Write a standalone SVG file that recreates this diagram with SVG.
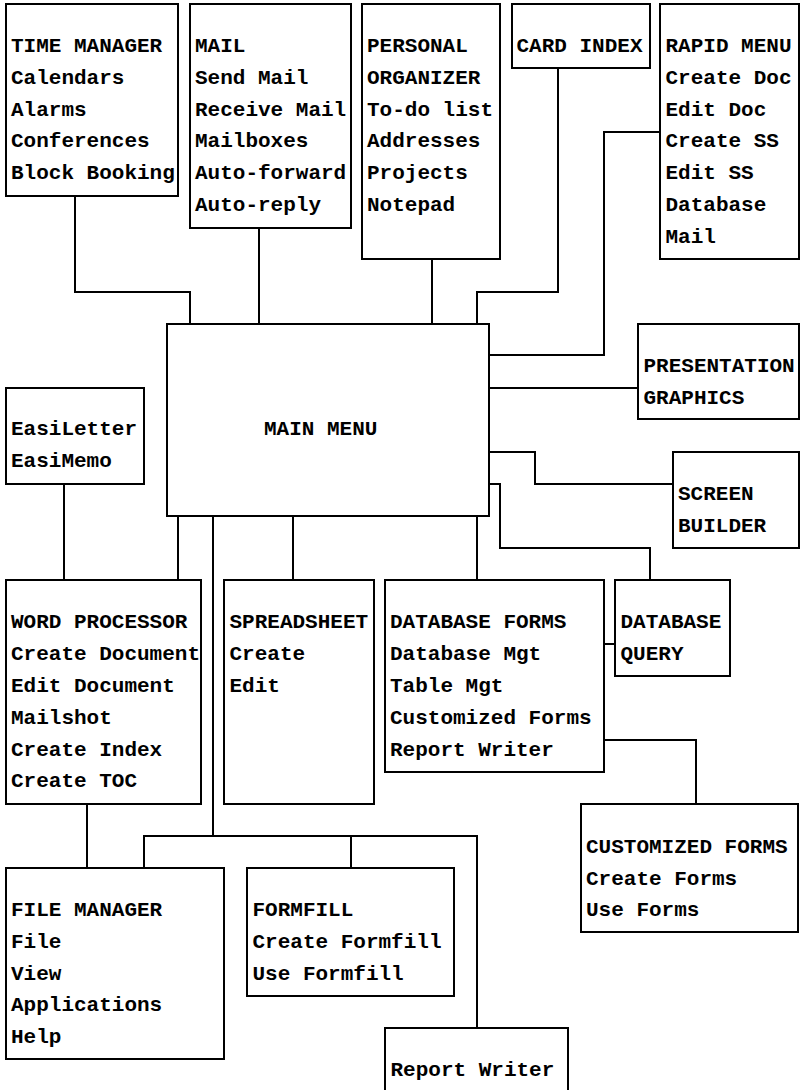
<svg xmlns="http://www.w3.org/2000/svg" width="800" height="1090" viewBox="0 0 800 1090">
  <style>
    .box { fill: #ffffff; stroke: #000000; stroke-width: 2; }
    .wire { fill: none; stroke: #000000; stroke-width: 2; }
    text { font-family: "Liberation Mono", "Courier New", monospace; font-weight: bold; font-size: 21px; fill: #000000; }
  </style>
  <rect x="0" y="0" width="800" height="1090" fill="#ffffff"/>

  <!-- connectors -->
  <g id="connectors">
    <path class="wire" d="M75,196 V292 H190 V324"/>
    <path class="wire" d="M259,228 V324"/>
    <path class="wire" d="M432,259 V324"/>
    <path class="wire" d="M558,68 V292 H477 V324"/>
    <path class="wire" d="M660,132 H604 V355 H489"/>
    <path class="wire" d="M489,388 H638"/>
    <path class="wire" d="M489,452 H535 V484 H673"/>
    <path class="wire" d="M489,484 H500 V548 H650 V580"/>
    <path class="wire" d="M64,484 V580"/>
    <path class="wire" d="M178,516 V580"/>
    <path class="wire" d="M293,516 V580"/>
    <path class="wire" d="M477,516 V580"/>
    <path class="wire" d="M604,644 H615"/>
    <path class="wire" d="M604,740 H696 V804"/>
    <path class="wire" d="M87,804 V868"/>
    <path class="wire" d="M213,516 V836"/>
    <path class="wire" d="M144,868 V836 H477 V1028"/>
    <path class="wire" d="M351,836 V868"/>
  </g>

  <g id="time-manager">
    <rect class="box" x="6" y="4" width="172" height="192"/>
    <text x="11" y="52">TIME MANAGER</text>
    <text x="11" y="83.8">Calendars</text>
    <text x="11" y="115.6">Alarms</text>
    <text x="11" y="147.4">Conferences</text>
    <text x="11" y="179.2">Block Booking</text>
  </g>

  <g id="mail">
    <rect class="box" x="190" y="4" width="161" height="224"/>
    <text x="195" y="52">MAIL</text>
    <text x="195" y="83.8">Send Mail</text>
    <text x="195" y="115.6">Receive Mail</text>
    <text x="195" y="147.4">Mailboxes</text>
    <text x="195" y="179.2">Auto-forward</text>
    <text x="195" y="211">Auto-reply</text>
  </g>

  <g id="personal-organizer">
    <rect class="box" x="362" y="4" width="138" height="255"/>
    <text x="367" y="52">PERSONAL</text>
    <text x="367" y="83.8">ORGANIZER</text>
    <text x="367" y="115.6">To-do list</text>
    <text x="367" y="147.4">Addresses</text>
    <text x="367" y="179.2">Projects</text>
    <text x="367" y="211">Notepad</text>
  </g>

  <g id="card-index">
    <rect class="box" x="512" y="4" width="138" height="64"/>
    <text x="516.5" y="52">CARD INDEX</text>
  </g>

  <g id="rapid-menu">
    <rect class="box" x="660" y="4" width="139" height="255"/>
    <text x="665.5" y="52">RAPID MENU</text>
    <text x="665.5" y="83.8">Create Doc</text>
    <text x="665.5" y="115.6">Edit Doc</text>
    <text x="665.5" y="147.4">Create SS</text>
    <text x="665.5" y="179.2">Edit SS</text>
    <text x="665.5" y="211">Database</text>
    <text x="665.5" y="242.8">Mail</text>
  </g>

  <g id="main-menu">
    <rect class="box" x="167" y="324" width="322" height="192"/>
    <text x="264" y="435">MAIN MENU</text>
  </g>

  <g id="presentation-graphics">
    <rect class="box" x="638" y="324" width="161" height="95"/>
    <text x="643.5" y="372">PRESENTATION</text>
    <text x="643.5" y="403.5">GRAPHICS</text>
  </g>

  <g id="screen-builder">
    <rect class="box" x="673" y="452" width="126" height="96"/>
    <text x="678" y="500">SCREEN</text>
    <text x="678" y="531.8">BUILDER</text>
  </g>

  <g id="easi">
    <rect class="box" x="6" y="388" width="138" height="96"/>
    <text x="11" y="435">EasiLetter</text>
    <text x="11" y="466.8">EasiMemo</text>
  </g>

  <g id="word-processor">
    <rect class="box" x="6" y="580" width="195" height="224"/>
    <text x="11" y="628.3">WORD PROCESSOR</text>
    <text x="11" y="660.1">Create Document</text>
    <text x="11" y="691.9">Edit Document</text>
    <text x="11" y="723.7">Mailshot</text>
    <text x="11" y="755.5">Create Index</text>
    <text x="11" y="787.3">Create TOC</text>
  </g>

  <g id="spreadsheet">
    <rect class="box" x="224" y="580" width="150" height="224"/>
    <text x="229.5" y="628.3">SPREADSHEET</text>
    <text x="229.5" y="660.1">Create</text>
    <text x="229.5" y="691.9">Edit</text>
  </g>

  <g id="database-forms">
    <rect class="box" x="385" y="580" width="219" height="192"/>
    <text x="390" y="628.3">DATABASE FORMS</text>
    <text x="390" y="660.1">Database Mgt</text>
    <text x="390" y="691.9">Table Mgt</text>
    <text x="390" y="723.7">Customized Forms</text>
    <text x="390" y="755.5">Report Writer</text>
  </g>

  <g id="database-query">
    <rect class="box" x="615" y="580" width="115" height="96"/>
    <text x="620.5" y="628.3">DATABASE</text>
    <text x="620.5" y="660.1">QUERY</text>
  </g>

  <g id="customized-forms">
    <rect class="box" x="581" y="804" width="217" height="128"/>
    <text x="586" y="852.7">CUSTOMIZED FORMS</text>
    <text x="586" y="884.5">Create Forms</text>
    <text x="586" y="916.3">Use Forms</text>
  </g>

  <g id="file-manager">
    <rect class="box" x="6" y="868" width="218" height="191"/>
    <text x="11" y="916">FILE MANAGER</text>
    <text x="11" y="947.8">File</text>
    <text x="11" y="979.6">View</text>
    <text x="11" y="1011.4">Applications</text>
    <text x="11" y="1043.2">Help</text>
  </g>

  <g id="formfill">
    <rect class="box" x="247" y="868" width="207" height="128"/>
    <text x="252.5" y="916">FORMFILL</text>
    <text x="252.5" y="947.8">Create Formfill</text>
    <text x="252.5" y="979.6">Use Formfill</text>
  </g>

  <g id="report-writer">
    <rect class="box" x="385" y="1028" width="183" height="80"/>
    <text x="390.5" y="1075.7">Report Writer</text>
  </g>
</svg>
